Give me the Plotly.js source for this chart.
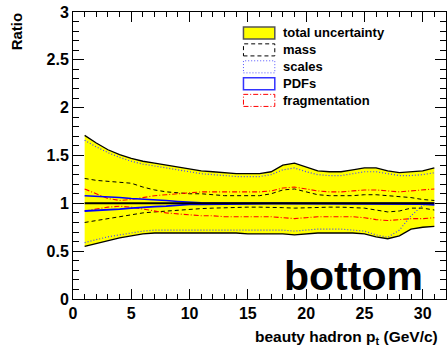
<!DOCTYPE html>
<html>
<head>
<meta charset="utf-8">
<script src="https://cdn.plot.ly/plotly-3.0.1.min.js"></script>
<style>html,body{margin:0;padding:0;background:#fff;}#chart{width:447px;height:349px;}</style>
</head>
<body>
<div id="chart"></div>
<script>
// ---- data ----
const pt = [1,2,3,4,5,6,7,8,9,10,11,12,13,14,15,16,17,18,19,20,21,22,23,24,25,26,27,28,29,30,31];
const central = [1,1,1,1,1,1,1,1,1,1,1,1,1,1,1,1,1,1,1,1,1,1,1,1,1,1,1,1,1,1,1];
const totalUp = [1.71,1.63,1.56,1.51,1.47,1.44,1.42,1.40,1.38,1.36,1.34,1.33,1.32,1.31,1.31,1.31,1.33,1.40,1.42,1.38,1.34,1.33,1.33,1.35,1.37,1.37,1.34,1.32,1.33,1.34,1.37];
const totalLo = [0.55,0.58,0.61,0.64,0.66,0.68,0.69,0.69,0.69,0.69,0.69,0.69,0.69,0.69,0.68,0.68,0.68,0.68,0.67,0.68,0.69,0.69,0.69,0.69,0.68,0.65,0.63,0.66,0.73,0.75,0.76];
const massUp = [1.26,1.24,1.23,1.22,1.21,1.17,1.14,1.12,1.11,1.10,1.10,1.09,1.08,1.08,1.08,1.08,1.10,1.14,1.15,1.12,1.09,1.08,1.08,1.08,1.09,1.09,1.08,1.07,1.06,1.04,1.03];
const massLo = [0.80,0.82,0.84,0.86,0.88,0.90,0.91,0.92,0.93,0.94,0.945,0.95,0.955,0.96,0.96,0.96,0.96,0.955,0.95,0.955,0.96,0.96,0.96,0.955,0.95,0.93,0.91,0.92,0.95,0.95,0.93];
const scalesUp = [1.66,1.59,1.53,1.48,1.44,1.41,1.39,1.37,1.35,1.33,1.31,1.30,1.29,1.28,1.28,1.28,1.30,1.35,1.37,1.33,1.30,1.29,1.29,1.31,1.33,1.33,1.31,1.29,1.29,1.30,1.32];
const scalesLo = [0.59,0.62,0.65,0.67,0.69,0.71,0.72,0.72,0.72,0.72,0.72,0.72,0.72,0.72,0.72,0.72,0.72,0.72,0.71,0.72,0.73,0.73,0.73,0.72,0.71,0.67,0.645,0.72,0.87,0.98,1.0];
const pdfUp = [1.08,1.075,1.07,1.06,1.05,1.045,1.04,1.03,1.02,1.01,1.005,1.003,1.002,1.002,1.002,1.002,1.002,1.002,1.002,1.002,1.002,1.002,1.002,1.002,1.002,1.002,1.002,1.002,1.002,1.002,1.002];
const pdfLo = [0.92,0.925,0.93,0.94,0.95,0.96,0.965,0.97,0.98,0.99,0.99,0.992,0.994,0.996,0.996,0.996,0.996,0.996,0.996,0.996,0.994,0.99,0.99,0.992,0.996,0.996,0.99,0.996,0.99,0.992,0.985];
const fragUp = [1.15,1.10,1.05,1.03,1.04,1.06,1.08,1.09,1.10,1.11,1.12,1.12,1.12,1.12,1.12,1.12,1.13,1.16,1.17,1.15,1.13,1.12,1.12,1.13,1.14,1.14,1.13,1.12,1.13,1.14,1.15];
const fragLo = [0.92,0.94,0.96,0.97,0.96,0.94,0.92,0.90,0.89,0.88,0.87,0.87,0.86,0.86,0.86,0.86,0.86,0.85,0.84,0.85,0.86,0.86,0.86,0.86,0.85,0.83,0.82,0.83,0.84,0.84,0.85];
const seriesNames = ['total uncertainty','mass','scales','PDFs','fragmentation'];
const xTickVals = [0,5,10,15,20,25,30];
const yTickVals = [0,0.5,1,1.5,2,2.5,3];
const xTitle = 'beauty hadron p<sub>t</sub> (GeV/c)';
const yTitle = 'Ratio';
const label = 'bottom';

const F = 'Liberation Sans, Arial, Helvetica, sans-serif';
const DASH = '4px,3px', DOT = '1px,2px', DASHDOT = '5px,2px,1px,2px';

function ln(y, color, dash, width, name){
  return {x: pt, y: y, type:'scatter', mode:'lines', name: name, showlegend:false,
          line:{color:color, dash:dash, width:width}, hoverinfo:'skip'};
}

const traces = [
  ln(totalLo, '#000000', 'solid', 1.3, seriesNames[0]),
  Object.assign(ln(totalUp, '#000000', 'solid', 1.3, seriesNames[0]), {fill:'tonexty', fillcolor:'#ffff00'}),
  ln(scalesUp, '#4444ff', DOT, 1.2, seriesNames[2]),
  ln(scalesLo, '#4444ff', DOT, 1.2, seriesNames[2]),
  ln(massUp, '#000000', DASH, 1, seriesNames[1]),
  ln(massLo, '#000000', DASH, 1, seriesNames[1]),
  ln(fragUp, '#ff0000', DASHDOT, 1.1, seriesNames[4]),
  ln(fragLo, '#ff0000', DASHDOT, 1.1, seriesNames[4]),
  ln(pdfUp, '#0000ff', 'solid', 1.5, seriesNames[3]),
  ln(pdfLo, '#0000ff', 'solid', 1.8, seriesNames[3]),
  ln(central, '#000000', 'solid', 2, 'central')
];

// custom ROOT-style legend (boxes) in paper coordinates
const legStyles = [
  {fill:'#ffff00', color:'#555555', dash:'solid', width:1.5},
  {fill:'rgba(0,0,0,0)', color:'#000000', dash:DASH, width:1},
  {fill:'rgba(0,0,0,0)', color:'#5555ff', dash:DOT, width:1},
  {fill:'rgba(0,0,0,0)', color:'#3333ff', dash:'solid', width:1.5},
  {fill:'rgba(0,0,0,0)', color:'#ff0000', dash:DASHDOT, width:1}
];
const legY = [0.927, 0.868, 0.809, 0.750, 0.692];
const shapes = [];
const annotations = [];
seriesNames.forEach((n,i)=>{
  shapes.push({type:'rect', xref:'paper', yref:'paper', x0:0.457, x1:0.541, y0:legY[i]-0.021, y1:legY[i]+0.021,
    fillcolor:legStyles[i].fill, line:{color:legStyles[i].color, dash:legStyles[i].dash, width:legStyles[i].width}});
  annotations.push({xref:'paper', yref:'paper', x:0.558, y:legY[i], xanchor:'left', yanchor:'middle', showarrow:false,
    text:n, font:{family:F, size:13, weight:'bold', color:'#000'}});
});
annotations.push({xref:'paper', yref:'paper', x:0.984, y:-0.135, xanchor:'right', yanchor:'middle', showarrow:false,
  text:xTitle, font:{family:F, size:15.5, weight:'bold', color:'#000'}});
annotations.push({xref:'paper', yref:'paper', x:-0.149, y:0.934, xanchor:'center', yanchor:'middle', showarrow:false,
  textangle:-90, text:yTitle, font:{family:F, size:15, weight:'bold', color:'#000'}});
annotations.push({xref:'paper', yref:'paper', x:0.751, y:0.08, xanchor:'center', yanchor:'middle', showarrow:false,
  text:label, font:{family:F, size:41, weight:'bold', color:'#000'}});

const axisCommon = {
  showgrid:false, zeroline:false, showline:true, linecolor:'#000', linewidth:1, mirror:'allticks',
  ticks:'inside', tickcolor:'#000', tickwidth:1,
  tickfont:{family:F, size:16, weight:'bold', color:'#000'}, fixedrange:true
};

const layout = {
  width:447, height:349,
  margin:{l:73, r:1, t:12, b:50, pad:0},
  paper_bgcolor:'#fff', plot_bgcolor:'#fff',
  showlegend:false,
  xaxis: Object.assign({}, axisCommon, {range:[0,32], tickvals:xTickVals, ticklen:10,
    minor:{dtick:1, tick0:0, ticks:'inside', ticklen:5, tickcolor:'#000', showgrid:false}}),
  yaxis: Object.assign({}, axisCommon, {range:[0,3], tickvals:yTickVals, ticklen:11,
    minor:{dtick:0.1, tick0:0, ticks:'inside', ticklen:6, tickcolor:'#000', showgrid:false}}),
  shapes: shapes,
  annotations: annotations
};

Plotly.newPlot('chart', traces, layout, {staticPlot:true, displayModeBar:false});
</script>
</body>
</html>
